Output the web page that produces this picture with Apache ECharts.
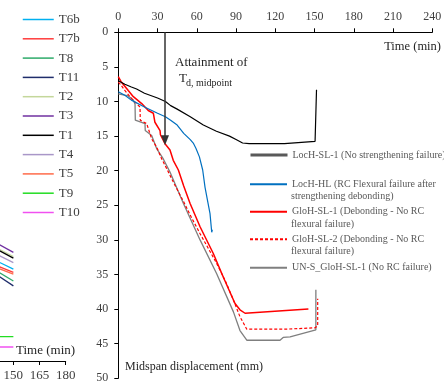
<!DOCTYPE html>
<html><head><meta charset="utf-8">
<script src="https://cdn.jsdelivr.net/npm/echarts@6/dist/echarts.min.js"></script>
<style>html,body{margin:0;padding:0;background:#fff}#c{width:444px;height:383px}</style>
</head><body><div id="c"></div>
<script>
// ---------------- DATA ----------------
// Main chart: time (min) vs midspan displacement (mm)
const TIME_TICK_STEP = 30;          // top axis 0..240
const TIME_MAX = 240;
const DISP_TICK_STEP = 5;           // left axis 0..50 (downwards)
const DISP_MAX = 50;

const SERIES_NAMES = [
  'LocH-SL-1 (No strengthening failure)',
  'LocH-HL (RC Flexural failure after strengthening debonding)',
  'GloH-SL-1 (Debonding - No RC flexural failure)',
  'GloH-SL-2 (Debonding - No RC flexural failure)',
  'UN-S_GloH-SL-1 (No RC failure)'
];
const LEGEND_LINE1 = [
  'LocH-SL-1 (No strengthening failure)',
  'LocH-HL (RC Flexural failure after',
  'GloH-SL-1 (Debonding - No RC',
  'GloH-SL-2 (Debonding - No RC',
  'UN-S_GloH-SL-1 (No RC failure)'
];
const LEGEND_LINE2 = ['', 'strengthening debonding)', 'flexural failure)', 'flexural failure)', ''];

// [time (min), displacement (mm)]
const LOCH_SL1 = [[0,7.0],[5,7.5],[10,7.9],[14,8.2],[20,8.8],[30,9.5],[36,10.0],[40,10.6],[45,11.1],[55,12.2],[65,13.4],[75,14.3],[85,15.0],[90,15.5],[95,16.0],[100,16.1],[127,16.1],[140,15.9],[150.4,15.75],[151.5,8.3]];
const LOCH_HL = [[0,8.6],[5,9.1],[10,9.8],[20,10.8],[30,11.7],[36,12.2],[40,12.7],[45,13.4],[50,14.6],[55,15.5],[57.3,16.0],[59.4,16.8],[62,18.0],[64.5,19.9],[66.3,22.4],[68.5,24.6],[70.1,26.2],[71.4,28.9],[71.9,28.5]];
const GLOH_SL1 = [[0,6.4],[2,7.1],[7.6,8.4],[11.5,9.3],[17.9,10.3],[22.9,11.3],[26.8,11.7],[28,13.0],[31.9,14.2],[32.2,14.8],[35.7,16.1],[39.5,17.0],[42,18.5],[45.9,19.9],[50,22.2],[54.8,24.7],[62.5,28.1],[72.7,32.0],[80.3,35.4],[89.2,39.2],[93,40.1],[96.9,40.6],[145.3,40.0]];
const GLOH_SL2 = [[0,7.2],[2,7.6],[5,8.4],[10.2,9.6],[16.6,10.8],[16.8,12.7],[21.7,13.2],[25.5,15.4],[29.3,16.6],[33.2,18.3],[37,19.7],[43,22.0],[49.7,24.4],[56,26.8],[62.5,29.1],[69,31.3],[75.2,33.4],[82,36.0],[88,38.7],[93,41.1],[98.2,42.9],[128,42.9],[150.4,42.7],[152.4,42.4],[152.4,38.5]];
const UN_S_GLOH_SL1 = [[0,8.9],[7.6,9.2],[11.5,9.8],[12.8,10.4],[13,12.7],[20.4,13.2],[20.6,14.2],[25.5,14.9],[29.3,16.8],[34.4,18.3],[39.5,20.2],[49.7,24.7],[62.5,30.0],[75.2,34.9],[88,40.4],[93,43.1],[98.2,44.5],[123.6,44.5],[126,44.1],[131.3,44.0],[151,43.0],[151,37.2]];

// Arrow "Attainment of Td, midpoint"
const ARROW_TIME = 35.7;
const ARROW_END_DISP = 15.6;

// Left (partial) chart: thermocouple readings vs time
const LEFT_TIME_STEP = 15;
const LEFT_TIME_MAX = 180;
const T_NAMES = ['T6b','T7b','T8','T11','T2','T3','T1','T4','T5','T9','T10'];
const T_TIMES = [140, 150];
const T_AT_140 = [366, 349, 330, 316, 414, 431, 409, 390, 341, 89, 51];
const T_AT_150 = [335, 323, 292, 274, 381, 396, 375, 359, 317, 89, 51];

// ---------------- STYLE ----------------
const FONT = 'Liberation Serif';
const T_COLORS = ['#00B0F0','#FF3B3B','#2EAA6A','#1F2D6B','#C4D79B','#7030A0','#000000','#A997C8','#FF6B4A','#22DD22','#F050F0'];
const MAIN_STYLES = [
  {color:'#000000', width:1.2, type:'solid'},
  {color:'#0070C0', width:1.2, type:'solid'},
  {color:'#FF0000', width:1.5, type:'solid'},
  {color:'#FF0000', width:1.2, type:[3,2]},
  {color:'#7F7F7F', width:1.3, type:'solid'}
];
const MAIN_DATA = [LOCH_SL1, LOCH_HL, GLOH_SL1, GLOH_SL2, UN_S_GLOH_SL1];
const LEG_CENTERS = [155, 184.3, 211.7, 239.3, 267.7];

const chart = echarts.init(document.getElementById('c'), null, {renderer:'canvas'});

const series = [];
// draw order: grey, dashed, red, blue, black
[4,3,2,1,0].forEach(i => {
  const s = {
    name: SERIES_NAMES[i], type:'line', xAxisIndex:0, yAxisIndex:0,
    data: MAIN_DATA[i], symbol:'none', showSymbol:false, animation:false,
    lineStyle:{color:MAIN_STYLES[i].color, width:MAIN_STYLES[i].width, type:MAIN_STYLES[i].type},
    itemStyle:{color:MAIN_STYLES[i].color},
    emphasis:{disabled:true}, silent:true, clip:false
  };
  if (i === 0) {
    s.markLine = {
      silent:true, animation:false, symbol:['none','triangle'], symbolSize:[8,10],
      label:{show:false}, emphasis:{disabled:true},
      lineStyle:{color:'#333333', width:1.5, type:'solid'},
      itemStyle:{color:'#111111'},
      data:[[{coord:[ARROW_TIME,0]},{coord:[ARROW_TIME,ARROW_END_DISP]}]]
    };
  }
  series.push(s);
});
T_NAMES.forEach((n, k) => {
  series.push({
    name:n, type:'line', xAxisIndex:1, yAxisIndex:1, symbol:'none', showSymbol:false,
    animation:false, silent:true, emphasis:{disabled:true},
    data: T_TIMES.map((t, j) => [t, j === 0 ? T_AT_140[k] : T_AT_150[k]]),
    lineStyle:{color:T_COLORS[k], width:1.3}, itemStyle:{color:T_COLORS[k]}
  });
});

const legends = SERIES_NAMES.map((n, i) => ({
  data:[n], left:249, top:LEG_CENTERS[i]-5, padding:0, itemWidth:37, itemHeight:10, itemGap:0,
  selectedMode:false, formatter:() => LEGEND_LINE1[i],
  textStyle:{fontFamily:FONT, fontSize:10, color:'#595959'},
  itemStyle:{opacity:0},
  lineStyle: i === 0 ? {color:'#595959', width:3} : {}
}));
legends.push({
  data:T_NAMES, orient:'vertical', left:22, top:13, padding:0, itemWidth:31, itemHeight:14, itemGap:6.3,
  selectedMode:false, textStyle:{fontFamily:FONT, fontSize:13, color:'#404040'},
  itemStyle:{opacity:0}, lineStyle:{width:1.5}
});

const graphics = [
  {type:'text', left:175, top:56, style:{text:'Attainment of', font:'13px ' + FONT, fill:'#262626'}},
  {type:'text', left:179, top:72, style:{text:'T', font:'13px ' + FONT, fill:'#262626'}},
  {type:'text', left:186, top:78, style:{text:'d, midpoint', font:'10px ' + FONT, fill:'#262626'}},
  {type:'text', right:3, top:40.5, style:{text:'Time (min)', font:'12.5px ' + FONT, fill:'#262626'}},
  {type:'text', left:125, top:361, style:{text:'Midspan displacement (mm)', font:'12px ' + FONT, fill:'#262626'}},
  {type:'text', left:16, top:344.5, style:{text:'Time (min)', font:'13px ' + FONT, fill:'#262626'}}
];
LEGEND_LINE2.forEach((t, i) => {
  if (t) graphics.push({type:'text', left:291, top:LEG_CENTERS[i] + 12.4 - 5, style:{text:t, font:'10px ' + FONT, fill:'#595959'}});
});

const axisCommon = {
  axisLine:{show:true, onZero:false, lineStyle:{color:'#000', width:1}},
  axisTick:{show:true, inside:false, length:4, lineStyle:{color:'#000', width:1}},
  splitLine:{show:false}, minorTick:{show:false}
};

chart.setOption({
  animation:false,
  backgroundColor:'#ffffff',
  grid:[
    {left:118.3, top:32.3, width:314, height:346, containLabel:false, outerBoundsMode:'none'},
    {left:-248.3, top:32, width:314, height:329, containLabel:false, outerBoundsMode:'none'}
  ],
  xAxis:[
    Object.assign({gridIndex:0, type:'value', position:'top', min:0, max:TIME_MAX, interval:TIME_TICK_STEP,
      axisLabel:{fontFamily:FONT, fontSize:12, color:'#404040', margin:9}}, axisCommon),
    Object.assign({gridIndex:1, type:'value', position:'bottom', min:0, max:LEFT_TIME_MAX, interval:LEFT_TIME_STEP,
      axisLabel:{fontFamily:FONT, fontSize:13, color:'#404040', margin:8}}, axisCommon)
  ],
  yAxis:[
    Object.assign({gridIndex:0, type:'value', inverse:true, min:0, max:DISP_MAX, interval:DISP_TICK_STEP,
      axisLabel:{fontFamily:FONT, fontSize:12, color:'#404040', margin:10}}, axisCommon),
    {gridIndex:1, type:'value', show:false, min:0, max:1200, splitLine:{show:false}}
  ],
  legend: legends,
  graphic: graphics,
  series: series
});
</script></body></html>
